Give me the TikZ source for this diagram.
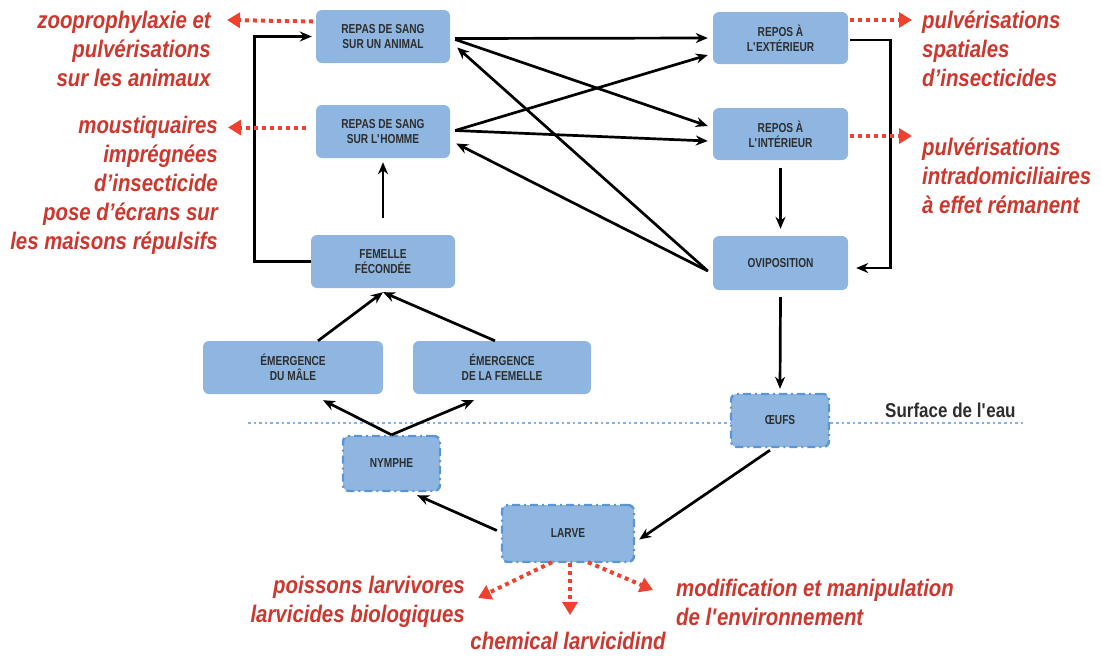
\documentclass[tikz,border=0pt]{standalone}
\usepackage{fontspec}
\setmainfont{Liberation Sans}[FakeStretch=0.85]
\newfontfamily\boxfont{Liberation Sans}[FakeStretch=0.78]
\usetikzlibrary{arrows.meta,calc}
\definecolor{boxblue}{RGB}{142,182,224}
\definecolor{dashblue}{RGB}{90,150,214}
\definecolor{txtgray}{RGB}{45,45,45}
\definecolor{redtxt}{RGB}{205,55,45}
\definecolor{redarr}{RGB}{238,65,48}
\definecolor{waterblue}{RGB}{130,178,228}
\tikzset{
  stage/.style={fill=boxblue, rounded corners=6pt, inner sep=0pt, align=center,
    text=txtgray, font=\boxfont\bfseries\fontsize{13}{15}\selectfont},
  wetstage/.style={stage, draw=dashblue, line width=2.4pt, dash pattern=on 8pt off 4pt on 2pt off 4pt},
  arr/.style={draw=black, line width=2.7pt, -{Stealth[length=12pt,width=10pt]}},
  redarrow/.style={draw=redarr, line width=4pt, dash pattern=on 4pt off 4pt,
    -{Triangle[length=13pt,width=15pt]}},
  remedy/.style={text=redtxt, font=\bfseries\itshape\fontsize{24}{29}\selectfont, inner sep=0pt},
}
\begin{document}
\begin{tikzpicture}[x=1pt,y=-1pt]
\useasboundingbox (0,0) rectangle (1101,657);
% water surface
\draw[waterblue, line width=2.6pt, dash pattern=on 2.6pt off 3pt] (248,423) -- (1025,423);
\node[anchor=south west, text=txtgray, font=\bfseries\fontsize{20}{24}\selectfont, inner sep=0pt] (surf) at (885,418) {Surface de l\textquotesingle eau};
% stages
\node[stage, minimum width=134pt, minimum height=53pt] (animal) at (383,36.5) {REPAS DE SANG\\SUR UN ANIMAL};
\node[stage, minimum width=134pt, minimum height=53pt] (homme) at (383,131.5) {REPAS DE SANG\\SUR L\textquotesingle HOMME};
\node[stage, minimum width=144pt, minimum height=53pt] (femelle) at (383,261.5) {FEMELLE\\FÉCONDÉE};
\node[stage, minimum width=180pt, minimum height=53pt] (male) at (293,367.5) {ÉMERGENCE\\DU MÂLE};
\node[stage, minimum width=178pt, minimum height=53pt] (femem) at (502,367.5) {ÉMERGENCE\\DE LA FEMELLE};
\node[wetstage, minimum width=97pt, minimum height=55pt] (nymphe) at (391.5,463.5) {NYMPHE};
\node[wetstage, minimum width=132pt, minimum height=57pt] (larve) at (568,533.5) {LARVE};
\node[wetstage, minimum width=98pt, minimum height=53pt] (oeufs) at (780,420.5) {ŒUFS};
\node[stage, minimum width=135pt, minimum height=52pt] (ext) at (780.5,38) {REPOS À\\L\textquotesingle EXTÉRIEUR};
\node[stage, minimum width=135pt, minimum height=52pt] (int) at (780.5,134) {REPOS À\\L\textquotesingle INTÉRIEUR};
\node[stage, minimum width=135pt, minimum height=54pt] (ovi) at (780.5,263) {OVIPOSITION};
% black connectors
\draw[arr] ($(animal.east)+(5,2)$) -- ($(ext.west)+(-5,0)$);
\draw[arr] ($(animal.east)+(5,3)$) -- ($(int.west)+(-5,-8)$);
\draw[arr] ($(homme.east)+(5,-1)$) -- ($(ext.west)+(-5,17)$);
\draw[arr] ($(homme.east)+(5,-1)$) -- ($(int.west)+(-5,7)$);
\draw[arr] ($(ovi.west)+(-5,8)$) -- ($(animal.east)+(7,11)$);
\draw[arr] ($(ovi.west)+(-5,8)$) -- ($(homme.east)+(6,12)$);
\draw[arr] ($(int.south)+(0,8)$) -- ($(ovi.north)+(0,-7)$);
\draw[arr] ($(ext.east)+(2,2)$) -- ++(40,0) |- ($(ovi.east)+(8,5)$);
\draw[arr] ($(ovi.south)+(0,7)$) -- ($(oeufs.north)+(0,-4)$);
\draw[arr] ($(oeufs.south)+(-10,2)$) -- ($(larve.east)+(4,6)$);
\draw[arr] ($(larve.west)+(-4,-3)$) -- ($(nymphe.south east)+(-24,3)$);
\draw[arr] (nymphe.north) -- ($(male.south)+(30,6)$);
\draw[arr] (nymphe.north) -- ($(femem.south)+(-28,6)$);
\draw[arr] ($(male.north)+(25,0)$) -- ($(femelle.south)+(0,4)$);
\draw[arr] ($(femem.north)+(-7,0)$) -- ($(femelle.south)+(0,4)$);
\draw[arr] ($(femelle.north)+(0,-17)$) -- ($(homme.south)+(0,4)$);
\draw[arr] (femelle.west) -- ++(-56,0) |- ($(animal.west)+(-4,0)$);
% red interventions
\node[remedy, anchor=east, align=right] (r1) at (211,49) {zooprophylaxie et\\pulvérisations\\sur les animaux};
\node[remedy, anchor=east, align=right] (r2) at (218,185.5) {moustiquaires\\imprégnées\\d’insecticide\\pose d’écrans sur\\les maisons répulsifs};
\node[remedy, anchor=west, align=left] (r3) at (922,49) {pulvérisations\\spatiales\\d’insecticides};
\node[remedy, anchor=west, align=left] (r4) at (922,176) {pulvérisations\\intradomiciliaires\\à effet rémanent};
\node[remedy, anchor=east, align=right] (r5) at (465,602) {poissons larvivores\\larvicides biologiques};
\node[remedy, anchor=center] (r6) at (568,641) {chemical larvicidind};
\node[remedy, anchor=west, align=left] (r7) at (676,602) {modification et manipulation\\de l\textquotesingle environnement};
\draw[redarrow] ($(animal.west)+(-3,-15)$) -- ($(r1.east)+(16,-29)$);
\draw[redarrow] ($(homme.west)+(-10,-4)$) -- ($(r2.east)+(10,-58)$);
\draw[redarrow] ($(ext.east)+(2,-18)$) -- ($(r3.west)+(-10,-29)$);
\draw[redarrow] ($(int.east)+(2,2)$) -- ($(r4.west)+(-10,-40)$);
\draw[redarrow] ($(larve.south)+(-16,-1)$) -- ($(r5.east)+(13,-4)$);
\draw[redarrow] ($(larve.south)+(2,0)$) -- ($(r6.north)+(2,-17)$);
\draw[redarrow] ($(larve.south)+(20,-1)$) -- ($(r7.west)+(-23,-12)$);
\end{tikzpicture}
\end{document}
